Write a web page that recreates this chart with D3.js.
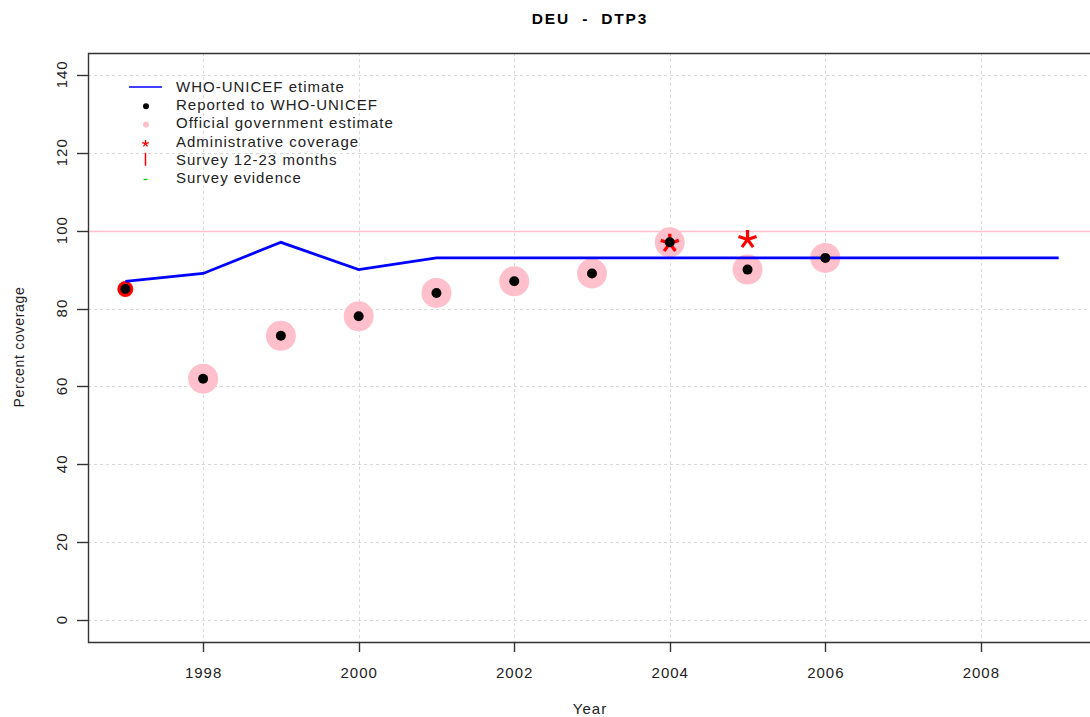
<!DOCTYPE html>
<html>
<head>
<meta charset="utf-8">
<script src="https://cdn.jsdelivr.net/npm/d3@7"></script>
<style>
	body{margin:0;background:#fff;}
	svg{display:block;font-family:'Liberation Sans',Arial,sans-serif;}
	text{white-space:pre;}
</style>
</head>
<body>
<div id="chart"></div>
<script>
// data
var years=[1997,1998,1999,2000,2001,2002,2003,2004,2005,2006,2007,2008,2009];
var whoEstimate=[87,89,97,90,93,93,93,93,93,93,93,93,93];
var repYears=[1997,1998,1999,2000,2001,2002,2003,2004,2005,2006];
var reported=[85,62,73,78,84,87,89,97,90,93];
var offYears=[1998,1999,2000,2001,2002,2003,2004,2005,2006];
var official=[62,73,78,84,87,89,97,90,93];
var ringYears=[1997];	// red ring around first point
var ringVals=[85];
var adminYears=[2004,2005];
var admin=[97,98];
var xTicks=[1998,2000,2002,2004,2006,2008];
var yTicks=[0,20,40,60,80,100,120,140];
var legendItems=['WHO-UNICEF etimate','Reported to WHO-UNICEF','Official government estimate','Administrative coverage','Survey 12-23 months','Survey evidence'];

var W=1090,H=717,
	L=88,T=53,R=1096,B=642;

var svg=d3.select('#chart').append('svg').attr('width',W).attr('height',H);

var x=d3.scaleLinear().domain([1996.52,2009.48]).range([L,R]);
var y=d3.scaleLinear().domain([-5.6,145.6]).range([B,T]);

var gClip=svg.append('defs').append('clipPath').attr('id','clip');
gClip.append('rect').attr('x',L).attr('y',T).attr('width',R-L).attr('height',B-T);

// grid
var gGrid=svg.append('g').attr('stroke','#d8d8d8').attr('stroke-dasharray','3,3').attr('stroke-width',1);
gGrid.selectAll('.vg').data(xTicks).enter().append('line')
	.attr('x1',function(d){return Math.round(x(d))+0.5}).attr('x2',function(d){return Math.round(x(d))+0.5})
	.attr('y1',T).attr('y2',B);
gGrid.selectAll('.hg').data(yTicks).enter().append('line')
	.attr('y1',function(d){return Math.round(y(d))+0.5}).attr('y2',function(d){return Math.round(y(d))+0.5})
	.attr('x1',L).attr('x2',R);

// reference line at 100
svg.append('line').attr('x1',L).attr('x2',R)
	.attr('y1',Math.round(y(100))+0.5).attr('y2',Math.round(y(100))+0.5)
	.attr('stroke','#ffc0cb').attr('stroke-width',1.5);

var gPlot=svg.append('g').attr('clip-path','url(#clip)');

// official government estimate (pink)
gPlot.selectAll('.off').data(offYears).enter().append('circle')
	.attr('cx',function(d){return x(d)}).attr('cy',function(d,i){return y(official[i])})
	.attr('r',15).attr('fill','#ffc0cb');

// red ring
gPlot.selectAll('.ring').data(ringYears).enter().append('circle')
	.attr('cx',function(d){return x(d)}).attr('cy',function(d,i){return y(ringVals[i])})
	.attr('r',8).attr('fill','#ff0000');

// admin stars
function starPath(cx,cy,r){
	var p='',a,k;
	for(k=0;k<5;k++){
		a=-Math.PI/2+k*2*Math.PI/5;
		p+='M'+cx+','+cy+'L'+(cx+r*Math.cos(a))+','+(cy+r*Math.sin(a));
	}
	return p;
}
gPlot.selectAll('.adm').data(adminYears).enter().append('path')
	.attr('d',function(d,i){return starPath(x(d),y(admin[i])+1,9.5)})
	.attr('stroke','#ff0000').attr('stroke-width',3.2).attr('fill','none');

// WHO-UNICEF line
var line=d3.line().x(function(d){return x(d)}).y(function(d,i){return y(whoEstimate[i])});
gPlot.append('path').datum(years).attr('d',line)
	.attr('fill','none').attr('stroke','#0000ff').attr('stroke-width',2.8);

// reported dots
gPlot.selectAll('.rep').data(repYears).enter().append('circle')
	.attr('cx',function(d){return x(d)}).attr('cy',function(d,i){return y(reported[i])})
	.attr('r',5).attr('fill','#000');

// box (left, top, bottom)
svg.append('path').attr('d','M'+R+','+(T+0.5)+'H'+(L+0.5)+'V'+(B+0.5)+'H'+R)
	.attr('fill','none').attr('stroke','#333').attr('stroke-width',1.4);

// x axis
var gx=svg.append('g').attr('font-size',15).attr('letter-spacing',1).attr('fill','#222');
gx.selectAll('.xt').data(xTicks).enter().append('line')
	.attr('x1',function(d){return Math.round(x(d))+0.5}).attr('x2',function(d){return Math.round(x(d))+0.5})
	.attr('y1',B).attr('y2',B+10).attr('stroke','#333').attr('stroke-width',1.4);
gx.selectAll('.xl').data(xTicks).enter().append('text')
	.attr('x',function(d){return x(d)+0.5}).attr('y',B+36).attr('text-anchor','middle').text(function(d){return d});

// y axis
var gy=svg.append('g').attr('font-size',15).attr('letter-spacing',1).attr('fill','#222');
gy.selectAll('.yt').data(yTicks).enter().append('line')
	.attr('y1',function(d){return Math.round(y(d))+0.5}).attr('y2',function(d){return Math.round(y(d))+0.5})
	.attr('x1',L-11).attr('x2',L).attr('stroke','#333').attr('stroke-width',1.4);
gy.selectAll('.yl').data(yTicks).enter().append('text')
	.attr('transform',function(d){return 'translate(67,'+(y(d)-0.5)+') rotate(-90)'})
	.attr('text-anchor','middle').text(function(d){return d});

// titles
svg.append('text').attr('x',590).attr('y',24).attr('text-anchor','middle')
	.attr('font-size',15.5).attr('letter-spacing',1.8).attr('font-weight','bold').attr('fill','#000').text('DEU  -  DTP3');
svg.append('text').attr('x',590).attr('y',714).attr('text-anchor','middle')
	.attr('font-size',15).attr('letter-spacing',1).attr('fill','#222').text('Year');
svg.append('text').attr('transform','translate(24,347) rotate(-90)').attr('text-anchor','middle')
	.attr('font-size',14).attr('letter-spacing',0.7).attr('fill','#222').text('Percent coverage');

// legend
var gLeg=svg.append('g').attr('font-size',15).attr('letter-spacing',1).attr('fill','#222');
var ly=function(i){return 87+i*18.2};
gLeg.selectAll('text').data(legendItems).enter().append('text')
	.attr('x',176).attr('y',function(d,i){return ly(i)+5}).text(function(d){return d});
gLeg.append('line').attr('x1',129).attr('x2',162).attr('y1',ly(0)).attr('y2',ly(0))
	.attr('stroke','#0000ff').attr('stroke-width',1.5);
gLeg.append('circle').attr('cx',146).attr('cy',ly(1)+1).attr('r',3).attr('fill','#000');
gLeg.append('circle').attr('cx',146).attr('cy',ly(2)+1).attr('r',3).attr('fill','#ffc0cb');
gLeg.append('path').attr('d',starPath(145.5,ly(3)+2,3.5)).attr('stroke','#ff0000').attr('stroke-width',1.3).attr('fill','none');
gLeg.append('line').attr('x1',145.5).attr('x2',145.5).attr('y1',ly(4)-7).attr('y2',ly(4)+6)
	.attr('stroke','#ff0000').attr('stroke-width',1.5);
gLeg.append('line').attr('x1',143.5).attr('x2',147.5).attr('y1',ly(5)+1.5).attr('y2',ly(5)+1.5)
	.attr('stroke','#00cc00').attr('stroke-width',1.3);
</script>
</body>
</html>
